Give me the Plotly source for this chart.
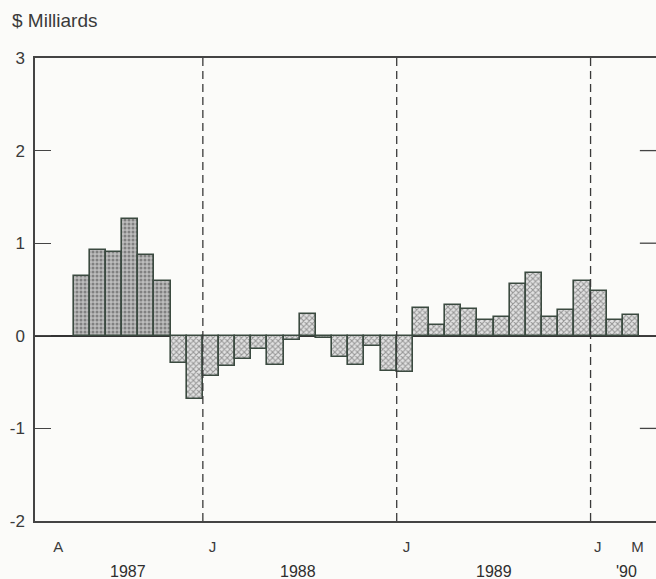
import plotly.graph_objects as go

# Monthly values, $ milliards, May 1987 .. Mar 1990
start_year = 1987
start_month = 5
values = [
    0.65, 0.93, 0.91, 1.26, 0.87, 0.59, -0.29, -0.68,
    -0.43, -0.33, -0.25, -0.14, -0.32, -0.05, 0.24, -0.02, -0.23, -0.32, -0.11, -0.38,
    -0.39, 0.30, 0.12, 0.33, 0.29, 0.17, 0.20, 0.56, 0.68, 0.20, 0.28, 0.59,
    0.48, 0.17, 0.23,
]
month_ticks = [(1987, 4, "A", 0.05), (1988, 1, "J", 0.6), (1989, 1, "J", 0.6),
               (1990, 1, "J", 0.45), (1990, 3, "M", 0.9)]
year_labels = [("1987", 1987, 7.35), ("1988", 1988, 5.9), ("1989", 1989, 6.0), ("'90", 1990, 2.2)]
y_ticks = [-2, -1, 0, 1, 2, 3]
y_ticktext = ["-2", "-1", "0", "1", "2", "3"]

def idx(year, month):
    return (year - 1987) * 12 + (month - 1)

x0 = idx(start_year, start_month)
xs = [x0 + i + 0.5 for i in range(len(values))]
years = [start_year + (start_month - 1 + i) // 12 for i in range(len(values))]

light = [(y == 1987 and v > 0) for y, v in zip(years, values)]
fill = ["#bdbdbd" if l else "#e2e2e2" for l in light]
pshape = ["." if l else "x" for l in light]
pfg = ["#949494" if l else "#6a6a6a" for l in light]

fig = go.Figure()
fig.add_trace(go.Bar(
    x=xs, y=values, width=1.0,
    marker=dict(
        color=fill,
        line=dict(color="#3b4a40", width=1.6),
        pattern=dict(shape=pshape, fgcolor=pfg, size=4, solidity=0.45, fillmode="overlay"),
    ),
    showlegend=False, hoverinfo="skip",
))

text_color = "#3a3a3a"
family = "Liberation Sans, Arial, sans-serif"
font = dict(family=family, size=17, color=text_color)

# dashed dividers at year starts
for yr in (1988, 1989, 1990):
    fig.add_shape(type="line", xref="x", yref="paper", x0=idx(yr, 1), x1=idx(yr, 1),
                  y0=0, y1=1, line=dict(color="#3a3a3a", width=1.3, dash="8px,5px"))

# right-side inward ticks
for v in y_ticks[1:-1]:
    fig.add_shape(type="line", xref="paper", yref="y", x0=0.974, x1=1.0, y0=v, y1=v,
                  line=dict(color="#444", width=1.3))

for label, yr, mid in year_labels:
    fig.add_annotation(x=idx(yr, 1) + mid, y=-0.108, xref="x", yref="paper",
                       text=label, showarrow=False,
                       font=dict(size=16, color="#2e2e2e", family=family),
                       xanchor="center", yanchor="middle")

fig.add_annotation(x=-0.04, y=1.082, xref="paper", yref="paper", text="$ Milliards",
                   showarrow=False, xanchor="left", yanchor="middle",
                   font=dict(family=family, size=19, color=text_color))

fig.update_layout(
    width=656, height=579,
    margin=dict(l=35, r=0, t=58, b=58, autoexpand=False),
    paper_bgcolor="#fbfbf9", plot_bgcolor="#fbfbf9",
    font=font, bargap=0,
    xaxis=dict(
        range=[1.61, 40.05], automargin=False,
        tickvals=[idx(y, m) + off for y, m, _, off in month_ticks],
        ticktext=[t for _, _, t, _ in month_ticks],
        tickfont=dict(family=family, size=15, color=text_color),
        ticks="", showgrid=False, zeroline=False,
        showline=True, linecolor="#444", linewidth=1.5, mirror=True,
        ticklabelstandoff=11,
    ),
    yaxis=dict(
        range=[-2, 3], tickvals=y_ticks, ticktext=y_ticktext, automargin=False,
        tickfont=dict(family=family, size=17, color=text_color),
        ticks="inside", ticklen=16, tickcolor="#444", tickwidth=1.3,
        showgrid=False, zeroline=True, zerolinecolor="#333", zerolinewidth=1.5,
        showline=True, linecolor="#444", linewidth=1.5, mirror=False,
        ticklabelstandoff=5,
    ),
)

fig.write_html("out.html", config={"displayModeBar": False},
               post_script="document.body.style.margin='0';document.body.style.overflow='hidden';")
